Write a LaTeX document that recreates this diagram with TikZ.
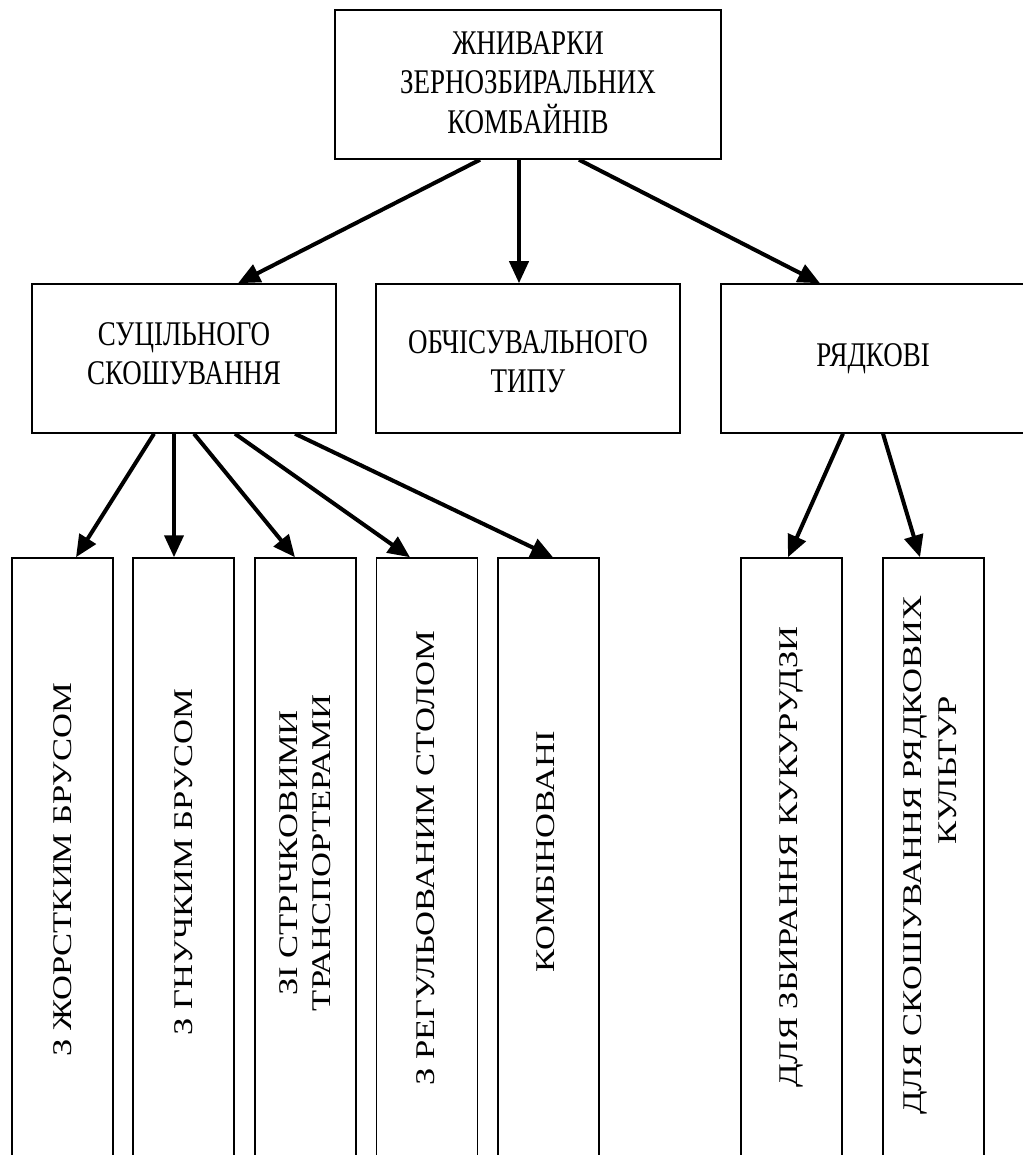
\documentclass[tikz,border=0pt]{standalone}
\usepackage{fontspec}
\setmainfont{Liberation Serif}
\newfontfamily\hfont[FakeStretch=0.78]{Liberation Serif}
\newfontfamily\vfont[FakeStretch=1.28]{Liberation Serif}
\usetikzlibrary{arrows.meta}
\begin{document}
\begin{tikzpicture}[x=1pt,y=-1pt,
 box/.style={draw, line width=1.5pt, inner sep=0pt,
   minimum width=304pt, minimum height=149pt},
 htext/.style={align=center, inner sep=0pt, font=\hfont\fontsize{34.6}{39.5}\selectfont},
 tall/.style={draw, line width=1.5pt, inner sep=0pt, minimum width=101pt, minimum height=620pt},
 arr/.style={line width=4pt, -{Triangle[length=22pt,width=19pt]}},
 vtext/.style={rotate=90, align=center, inner sep=0pt, font=\vfont\fontsize{27}{33}\selectfont}]
\useasboundingbox (0,0) rectangle (1022,1155);
% top
\node[box, minimum width=386pt] (top) at (528,84.5) {};
\node[htext] (tt) at ([yshift=2pt]top.center) {ЖНИВАРКИ\\ЗЕРНОЗБИРАЛЬНИХ\\КОМБАЙНІВ};
% level 2
\node[box] (b1) at (184,358.5) {};
\node[box] (b2) at (528,358.5) {};
\node[box] (b3) at (873,358.5) {};
\node[htext] (tb1) at ([yshift=5pt]b1.center) {СУЦІЛЬНОГО\\СКОШУВАННЯ};
\node[htext] (tb2) at ([yshift=-3pt]b2.center) {ОБЧІСУВАЛЬНОГО\\ТИПУ};
\node[htext] (tb3) at ([yshift=0pt]b3.center) {РЯДКОВІ};
% level 3
\node[tall] (c1) at (62.5,868) {};
\node[tall] (c2) at (183.5,868) {};
\node[tall] (c3) at (305.5,868) {};
\node[tall] (c4) at (427,868) {};
\node[tall] (c5) at (548.5,868) {};
\node[tall] (c6) at (791.5,868) {};
\node[tall] (c7) at (933.5,868) {};
% vertical texts
\node[vtext] (t1) at (62.5,870) {З ЖОРСТКИМ БРУСОМ};
\node[vtext] (t2) at (183.5,862) {З ГНУЧКИМ БРУСОМ};
\node[vtext] (t3) at (305,853) {ЗІ СТРІЧКОВИМИ\\ТРАНСПОРТЕРАМИ};
\node[vtext] (t4) at (426,858) {З РЕГУЛЬОВАНИМ СТОЛОМ};
\node[vtext] (t5) at (546,852) {КОМБІНОВАНІ};
\node[vtext] (t6) at (791,857) {ДЛЯ ЗБИРАННЯ КУКУРУДЗИ};
\node[vtext] (t7a) at (915,855) {ДЛЯ СКОШУВАННЯ РЯДКОВИХ};
\node[vtext] (t7b) at (948,770) {КУЛЬТУР};
% arrows top -> level 2
\draw[arr] ([xshift=-48pt]top.south) -- ([xshift=54pt]b1.north);
\draw[arr] ([xshift=-9pt]top.south) -- ([xshift=-9pt]b2.north);
\draw[arr] ([xshift=51pt]top.south) -- ([xshift=-53pt]b3.north);
% b1 -> level 3
\draw[arr] ([xshift=-30pt]b1.south) -- ([xshift=13.5pt]c1.north);
\draw[arr] ([xshift=-10pt]b1.south) -- ([xshift=-9.5pt]c2.north);
\draw[arr] ([xshift=10pt]b1.south) -- ([xshift=-10.5pt]c3.north);
\draw[arr] ([xshift=51pt]b1.south) -- ([xshift=-17pt]c4.north);
\draw[arr] ([xshift=111pt]b1.south) -- ([xshift=4.5pt]c5.north);
% b3 -> level 3
\draw[arr] ([xshift=-30pt]b3.south) -- ([xshift=-3.5pt]c6.north);
\draw[arr] ([xshift=10pt]b3.south) -- ([xshift=-13.5pt]c7.north);
\end{tikzpicture}
\end{document}
